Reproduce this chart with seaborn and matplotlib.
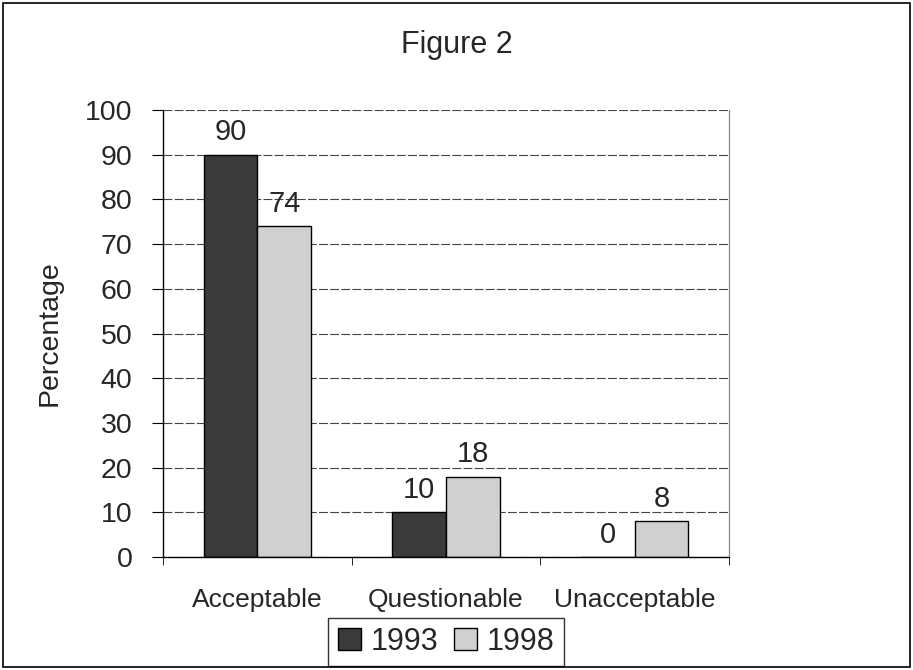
import numpy as np
import pandas as pd
import seaborn as sns
import matplotlib.pyplot as plt
from matplotlib.patches import Rectangle

categories = ["Acceptable", "Questionable", "Unacceptable"]
years = ["1993", "1998"]
values_1993 = [90, 10, 0]
values_1998 = [74, 18, 8]

df = pd.DataFrame({
    "category": categories * 2,
    "year": [years[0]] * 3 + [years[1]] * 3,
    "pct": values_1993 + values_1998,
})

sns.set_style("white")
plt.rcParams['font.family'] = ['Liberation Sans', 'DejaVu Sans']

fig = plt.figure(figsize=(9.13, 6.70), dpi=100)
# plot area in pixels: x 163..729, y 110..557
ax = fig.add_axes([163 / 913, 1 - 557 / 670, (729 - 163) / 913, (557 - 110) / 670])

sns.barplot(data=df, x="category", y="pct", hue="year", ax=ax,
            palette=["#3a3a3a", "#d0d0d0"], width=0.57, edgecolor="black",
            linewidth=1.0, saturation=1, legend=True)

# value labels above bars
for cont in ax.containers:
    ax.bar_label(cont, fontsize=21, padding=6)

ax.set_ylim(0, 100)
ax.set_yticks(range(0, 101, 10))
ax.set_xlim(-0.5, 2.5)
ax.yaxis.grid(True, color="#444444", linestyle=(0, (8, 2)), linewidth=0.8)
ax.set_axisbelow(True)
ax.tick_params(axis="y", labelsize=20.5, length=8, pad=14, direction="out",
               left=True, color="black")
ax.set_xticks([0, 1, 2])
ax.tick_params(axis="x", labelsize=19, length=0, pad=22)
ax.set_xticks([-0.5, 0.5, 1.5, 2.5], minor=True)
ax.tick_params(axis="x", which="minor", length=6, direction="out", bottom=True,
               color="black")
ax.set_xlabel("")
ax.set_ylabel("Percentage", fontsize=20.5, labelpad=16)

for s in ["left", "bottom"]:
    ax.spines[s].set_color("black")
    ax.spines[s].set_linewidth(1.0)
ax.spines["right"].set_color("#888888")
ax.spines["right"].set_linewidth(0.9)
ax.spines["top"].set_visible(False)

leg = ax.legend(loc="center", bbox_to_anchor=(0.5, -0.19), ncol=2, fontsize=22,
                frameon=True, fancybox=False, edgecolor="black", handlelength=0.75,
                handleheight=0.75, handletextpad=0.33, columnspacing=0.5,
                borderpad=0.3, borderaxespad=0)
leg.get_frame().set_linewidth(1.0)

fig.text(0.5, 1 - 45 / 670, "Figure 2", ha="center", va="center", fontsize=22)

fig.add_artist(Rectangle((0.003, 0.004), 0.994, 0.992, transform=fig.transFigure,
                         fill=False, edgecolor="black", linewidth=1.2))

fig.savefig("out.png", dpi=100)
